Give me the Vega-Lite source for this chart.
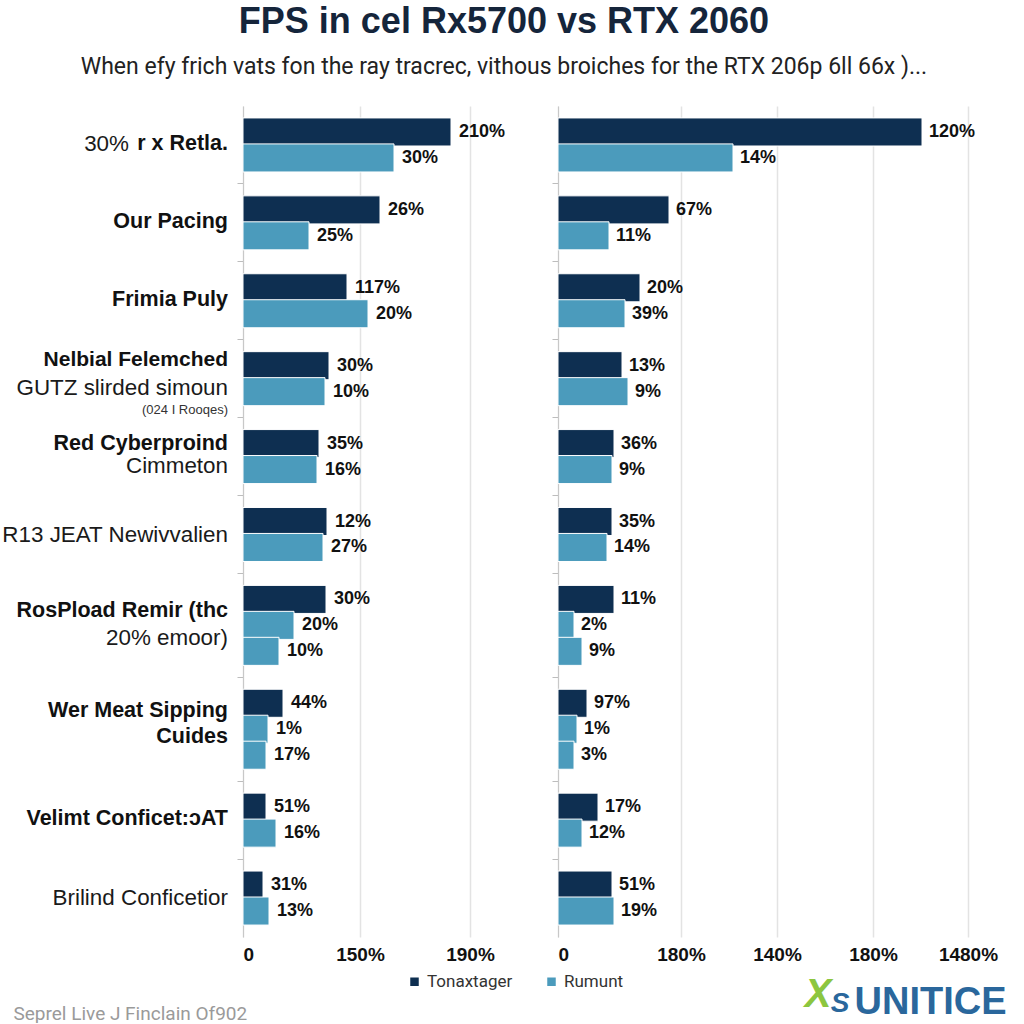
{
  "$schema": "https://vega.github.io/schema/vega-lite/v6.json",
  "background": "white",
  "padding": {"left": 1, "top": 4, "right": 6, "bottom": 0},
  "title": {
    "text": "FPS in cel Rx5700 vs RTX 2060",
    "subtitle": "When efy frich vats fon the ray tracrec, vithous broiches for the RTX 206p 6ll 66x )...",
    "anchor": "middle",
    "fontSize": 36,
    "font": "Liberation Sans",
    "fontWeight": "bold",
    "color": "#15253b",
    "subtitleFontSize": 23,
    "subtitleFont": "Roboto",
    "subtitleColor": "#222222",
    "subtitlePadding": 15,
    "offset": 26
  },
  "datasets": {
    "left": [
      {"slot": "1a", "series": "Tonaxtager", "value": 208, "label": "210%"},
      {"slot": "1b", "series": "Rumunt", "value": 151, "label": "30%"},
      {"slot": "2a", "series": "Tonaxtager", "value": 137, "label": "26%"},
      {"slot": "2b", "series": "Rumunt", "value": 66, "label": "25%"},
      {"slot": "3a", "series": "Tonaxtager", "value": 104, "label": "117%"},
      {"slot": "3b", "series": "Rumunt", "value": 125, "label": "20%"},
      {"slot": "4a", "series": "Tonaxtager", "value": 86, "label": "30%"},
      {"slot": "4b", "series": "Rumunt", "value": 82, "label": "10%"},
      {"slot": "5a", "series": "Tonaxtager", "value": 76, "label": "35%"},
      {"slot": "5b", "series": "Rumunt", "value": 74, "label": "16%"},
      {"slot": "6a", "series": "Tonaxtager", "value": 84, "label": "12%"},
      {"slot": "6b", "series": "Rumunt", "value": 80, "label": "27%"},
      {"slot": "7a", "series": "Tonaxtager", "value": 83, "label": "30%"},
      {"slot": "7b", "series": "Rumunt", "value": 51, "label": "20%"},
      {"slot": "7c", "series": "Rumunt", "value": 36, "label": "10%"},
      {"slot": "8a", "series": "Tonaxtager", "value": 40, "label": "44%"},
      {"slot": "8b", "series": "Rumunt", "value": 25, "label": "1%"},
      {"slot": "8c", "series": "Rumunt", "value": 23, "label": "17%"},
      {"slot": "9a", "series": "Tonaxtager", "value": 23, "label": "51%"},
      {"slot": "9b", "series": "Rumunt", "value": 33, "label": "16%"},
      {"slot": "10a", "series": "Tonaxtager", "value": 20, "label": "31%"},
      {"slot": "10b", "series": "Rumunt", "value": 26, "label": "13%"}
    ],
    "right": [
      {"slot": "1a", "series": "Tonaxtager", "value": 364, "label": "120%"},
      {"slot": "1b", "series": "Rumunt", "value": 175, "label": "14%"},
      {"slot": "2a", "series": "Tonaxtager", "value": 111, "label": "67%"},
      {"slot": "2b", "series": "Rumunt", "value": 51, "label": "11%"},
      {"slot": "3a", "series": "Tonaxtager", "value": 82, "label": "20%"},
      {"slot": "3b", "series": "Rumunt", "value": 67, "label": "39%"},
      {"slot": "4a", "series": "Tonaxtager", "value": 64, "label": "13%"},
      {"slot": "4b", "series": "Rumunt", "value": 70, "label": "9%"},
      {"slot": "5a", "series": "Tonaxtager", "value": 56, "label": "36%"},
      {"slot": "5b", "series": "Rumunt", "value": 54, "label": "9%"},
      {"slot": "6a", "series": "Tonaxtager", "value": 54, "label": "35%"},
      {"slot": "6b", "series": "Rumunt", "value": 49, "label": "14%"},
      {"slot": "7a", "series": "Tonaxtager", "value": 56, "label": "11%"},
      {"slot": "7b", "series": "Rumunt", "value": 16, "label": "2%"},
      {"slot": "7c", "series": "Rumunt", "value": 24, "label": "9%"},
      {"slot": "8a", "series": "Tonaxtager", "value": 29, "label": "97%"},
      {"slot": "8b", "series": "Rumunt", "value": 19, "label": "1%"},
      {"slot": "8c", "series": "Rumunt", "value": 16, "label": "3%"},
      {"slot": "9a", "series": "Tonaxtager", "value": 40, "label": "17%"},
      {"slot": "9b", "series": "Rumunt", "value": 24, "label": "12%"},
      {"slot": "10a", "series": "Tonaxtager", "value": 54, "label": "51%"},
      {"slot": "10b", "series": "Rumunt", "value": 56, "label": "19%"}
    ],
    "boldEdge": [
      {"slot": "1a", "text": "r x Retla."},
      {"slot": "2a", "text": "Our Pacing"},
      {"slot": "3a", "text": "Frimia Puly"},
      {"slot": "7a", "text": "RosPload Remir (thc"},
      {"slot": "9a", "text": "Velimt Conficet:ɔAT"}
    ],
    "boldLow": [
      {"slot": "8a", "text": "Wer Meat Sipping"},
      {"slot": "8b", "text": "Cuides"}
    ],
    "boldCenter": [
      {"slot": "5a", "text": "Red Cyberproind"}
    ],
    "boldHigh": [
      {"slot": "4a", "text": "Nelbial Felemched"}
    ],
    "regEdge": [
      {"slot": "6a", "text": "R13 JEAT Newivvalien"},
      {"slot": "7b", "text": "20% emoor)"},
      {"slot": "10a", "text": "Brilind Conficetior"}
    ],
    "regMid": [
      {"slot": "4b", "text": "GUTZ slirded simoun"},
      {"slot": "5b", "text": "Cimmeton"}
    ],
    "smallNote": [
      {"slot": "4b", "text": "(024 I Rooqes)"}
    ],
    "prefix": [
      {"slot": "1a", "text": "30%"}
    ],
    "logoX": [{"slot": "10b", "glyph": "X"}],
    "logoS": [{"slot": "10b", "glyph": "S"}]
  },
  "hconcat": [
    {
      "width": 272,
      "height": 831,
      "encoding": {
        "y": {
          "field": "slot",
          "type": "nominal",
          "sort": null,
          "scale": {
            "domain": ["1a","1b","g1","2a","2b","g2","3a","3b","g3","4a","4b","g4","5a","5b","g5","6a","6b","g6","7a","7b","7c","g7","8a","8b","8c","g8","9a","9b","g9","10a","10b"],
            "paddingInner": 0,
            "paddingOuter": 0.5
          },
          "axis": {
            "values": ["g1","g2","g3","g4","g5","g6","g7","g8","g9"],
            "labels": false,
            "title": null,
            "grid": false,
            "domainColor": "#c8c8c8",
            "tickColor": "#bdbdbd",
            "tickSize": 6
          }
        }
      },
      "layer": [
        {
          "data": {"name": "left"},
          "mark": {"type": "bar", "height": {"band": 1.08}, "stroke": "white", "strokeWidth": 1},
          "encoding": {
            "x": {
              "field": "value",
              "type": "quantitative",
              "scale": {"domain": [0, 272], "nice": false},
              "axis": {
                "values": [0, 117, 227],
                "labelExpr": "datum.value == 0 ? '0' : datum.value == 117 ? '150%' : '190%'",
                "grid": true,
                "gridColor": "#e3e3e3",
                "gridWidth": 1.5,
                "domain": false,
                "ticks": false,
                "labelFont": "Liberation Sans",
                "labelFontSize": 19,
                "labelFontWeight": "bold",
                "labelColor": "#111111",
                "labelPadding": 8,
                "title": "Seprel Live J Finclain Of902",
                "titleAnchor": "start",
                "titleAlign": "left",
                "titleBaseline": "middle",
                "titleX": -230,
                "titleY": 76,
                "titleFont": "Roboto",
                "titleFontSize": 19,
                "titleFontWeight": "normal",
                "titleColor": "#9a9a9a"
              }
            },
            "color": {
              "field": "series",
              "type": "nominal",
              "scale": {"domain": ["Tonaxtager", "Rumunt"], "range": ["#0e2f51", "#4b9bbc"]},
              "legend": {
                "title": null,
                "orient": "none",
                "legendX": 163,
                "legendY": 867,
                "direction": "horizontal",
                "symbolType": "square",
                "symbolSize": 100,
                "labelFont": "Roboto",
                "labelFontSize": 17,
                "labelColor": "#333333",
                "columnPadding": 30
              }
            }
          }
        },
        {
          "data": {"name": "left"},
          "mark": {"type": "text", "align": "left", "baseline": "middle", "dx": 8, "font": "Liberation Sans", "fontSize": 18, "fontWeight": "bold", "color": "#111111"},
          "encoding": {"x": {"field": "value", "type": "quantitative"}, "text": {"field": "label"}}
        },
        {
          "data": {"name": "boldEdge"},
          "mark": {"type": "text", "align": "right", "baseline": "middle", "dx": -15, "dy": 12, "font": "Liberation Sans", "fontSize": 21.5, "fontWeight": "bold", "color": "#111111"},
          "encoding": {"x": {"datum": 0, "type": "quantitative"}, "text": {"field": "text"}}
        },
        {
          "data": {"name": "boldLow"},
          "mark": {"type": "text", "align": "right", "baseline": "middle", "dx": -15, "dy": 8, "font": "Liberation Sans", "fontSize": 21.5, "fontWeight": "bold", "color": "#111111"},
          "encoding": {"x": {"datum": 0, "type": "quantitative"}, "text": {"field": "text"}}
        },
        {
          "data": {"name": "boldCenter"},
          "mark": {"type": "text", "align": "right", "baseline": "middle", "dx": -15, "dy": 0, "font": "Liberation Sans", "fontSize": 21.5, "fontWeight": "bold", "color": "#111111"},
          "encoding": {"x": {"datum": 0, "type": "quantitative"}, "text": {"field": "text"}}
        },
        {
          "data": {"name": "boldHigh"},
          "mark": {"type": "text", "align": "right", "baseline": "middle", "dx": -15, "dy": -6, "font": "Liberation Sans", "fontSize": 21, "fontWeight": "bold", "color": "#111111"},
          "encoding": {"x": {"datum": 0, "type": "quantitative"}, "text": {"field": "text"}}
        },
        {
          "data": {"name": "regEdge"},
          "mark": {"type": "text", "align": "right", "baseline": "middle", "dx": -15, "dy": 13, "font": "Liberation Sans", "fontSize": 22.4, "color": "#1a1a1a"},
          "encoding": {"x": {"datum": 0, "type": "quantitative"}, "text": {"field": "text"}}
        },
        {
          "data": {"name": "regMid"},
          "mark": {"type": "text", "align": "right", "baseline": "middle", "dx": -15, "dy": -4, "font": "Liberation Sans", "fontSize": 22.4, "color": "#1a1a1a"},
          "encoding": {"x": {"datum": 0, "type": "quantitative"}, "text": {"field": "text"}}
        },
        {
          "data": {"name": "smallNote"},
          "mark": {"type": "text", "align": "right", "baseline": "middle", "dx": -15, "dy": 18, "font": "Liberation Sans Narrow, Liberation Sans", "fontSize": 13, "color": "#333333"},
          "encoding": {"x": {"datum": 0, "type": "quantitative"}, "text": {"field": "text"}}
        },
        {
          "data": {"name": "prefix"},
          "mark": {"type": "text", "align": "right", "baseline": "middle", "dx": -114, "dy": 12, "font": "Liberation Sans", "fontSize": 22.4, "color": "#1a1a1a"},
          "encoding": {"x": {"datum": 0, "type": "quantitative"}, "text": {"field": "text"}}
        }
      ]
    },
    {
      "width": 445,
      "height": 831,
      "encoding": {
        "y": {
          "field": "slot",
          "type": "nominal",
          "sort": null,
          "scale": {
            "domain": ["1a","1b","g1","2a","2b","g2","3a","3b","g3","4a","4b","g4","5a","5b","g5","6a","6b","g6","7a","7b","7c","g7","8a","8b","8c","g8","9a","9b","g9","10a","10b"],
            "paddingInner": 0,
            "paddingOuter": 0.5
          },
          "axis": {
            "values": ["g1","g2","g3","g4","g5","g6","g7","g8","g9"],
            "labels": false,
            "title": null,
            "grid": false,
            "domainColor": "#c8c8c8",
            "tickColor": "#bdbdbd",
            "tickSize": 6
          }
        }
      },
      "layer": [
        {
          "data": {"name": "right"},
          "mark": {"type": "bar", "height": {"band": 1.08}, "stroke": "white", "strokeWidth": 1},
          "encoding": {
            "x": {
              "field": "value",
              "type": "quantitative",
              "scale": {"domain": [0, 445], "nice": false},
              "axis": {
                "values": [0, 123, 219, 315, 410],
                "labelExpr": "datum.value == 0 ? '0' : datum.value == 123 ? '180%' : datum.value == 219 ? '140%' : datum.value == 315 ? '180%' : '1480%'",
                "grid": true,
                "gridColor": "#e3e3e3",
                "gridWidth": 1.5,
                "domain": false,
                "ticks": false,
                "labelFont": "Liberation Sans",
                "labelFontSize": 19,
                "labelFontWeight": "bold",
                "labelColor": "#111111",
                "labelPadding": 8,
                "title": "UNITICE",
                "titleAnchor": "end",
                "titleAlign": "right",
                "titleBaseline": "middle",
                "titleX": 448,
                "titleY": 65,
                "titleFont": "Liberation Sans",
                "titleFontSize": 38,
                "titleFontWeight": "bold",
                "titleColor": "#2a679c"
              }
            },
            "color": {
              "field": "series",
              "type": "nominal",
              "scale": {"domain": ["Tonaxtager", "Rumunt"], "range": ["#0e2f51", "#4b9bbc"]}
            }
          }
        },
        {
          "data": {"name": "right"},
          "mark": {"type": "text", "align": "left", "baseline": "middle", "dx": 7, "font": "Liberation Sans", "fontSize": 18, "fontWeight": "bold", "color": "#111111"},
          "encoding": {"x": {"field": "value", "type": "quantitative"}, "text": {"field": "label"}}
        },
        {
          "data": {"name": "logoX"},
          "mark": {"type": "text", "align": "center", "baseline": "middle", "dy": 84, "font": "Liberation Sans", "fontSize": 40, "fontWeight": "bold", "fontStyle": "italic", "color": "#8cc63f"},
          "encoding": {"x": {"datum": 260, "type": "quantitative"}, "text": {"field": "glyph"}}
        },
        {
          "data": {"name": "logoS"},
          "mark": {"type": "text", "align": "center", "baseline": "middle", "dx": 22, "dy": 93, "font": "Liberation Sans", "fontSize": 28, "fontWeight": "bold", "fontStyle": "italic", "color": "#2a679c"},
          "encoding": {"x": {"datum": 260, "type": "quantitative"}, "text": {"field": "glyph"}}
        }
      ]
    }
  ],
  "spacing": 36,
  "config": {
    "view": {"stroke": null},
    "font": "Liberation Sans"
  }
}
